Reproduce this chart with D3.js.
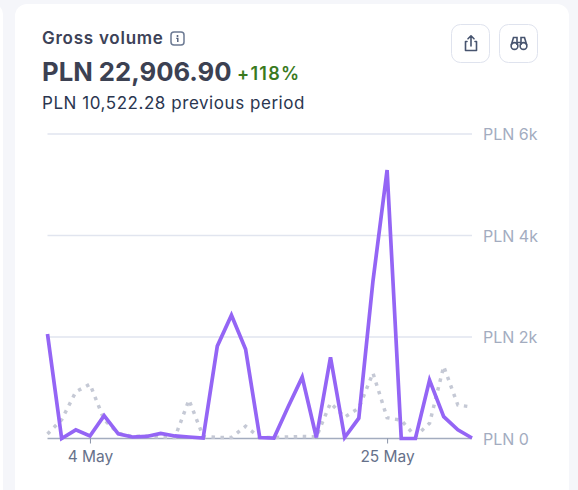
<!DOCTYPE html>
<html><head><meta charset="utf-8">
<script src="https://cdn.jsdelivr.net/npm/d3@7"></script>
<style>
html,body{margin:0;padding:0;background:#f5f6fa;width:578px;height:490px;overflow:hidden}
svg{display:block}
text{font-family:Inter,"Noto Sans",sans-serif}
</style></head><body>
<svg id="c" width="578" height="490"></svg>
<script>
const title = "Gross volume";
const totalLabel = "PLN 22,906.90";
const changeLabel = "+118%";
const previousLabel = "PLN 10,522.28 previous period";
const days = d3.range(1, 32);
const currentValues = [2060,0,170,50,450,90,30,40,100,50,30,10,1820,2430,1760,20,10,620,1210,20,1600,20,400,3100,5290,0,0,1150,430,170,10];
const previousValues = [90,370,920,1070,370,100,40,50,30,20,760,40,20,20,240,20,20,30,40,30,700,420,600,1290,410,360,40,300,1420,660,620];
const yTicks = [0,2000,4000,6000];
const xTickDays = [4,25];

const svg = d3.select("#c");
svg.append("rect").attr("x",-20).attr("y",4).attr("width",23).attr("height",520).attr("rx",10).attr("fill","#fff");
svg.append("rect").attr("x",15).attr("y",4).attr("width",554).attr("height",520).attr("rx",12).attr("fill","#fff");

const date = d => new Date(2024,4,d);
const x = d3.scaleTime().domain([date(1),date(31)]).range([47.5,472]);
const y = d3.scaleLinear().domain([0,6000]).range([438.5,134]);

// header
svg.append("text").attr("x",42).attr("y",44).attr("font-size",17).attr("font-weight",600).attr("letter-spacing",.75).attr("fill","#3c4257").text(title);
svg.append("text").attr("x",42).attr("y",80.5).attr("font-size",25.7).attr("font-weight",700).attr("fill","#3c4152").text(totalLabel);
svg.append("text").attr("x",237).attr("y",80).attr("font-size",18).attr("font-weight",600).attr("letter-spacing",1.3).attr("fill","#3a7a1e").text(changeLabel);
svg.append("text").attr("x",42).attr("y",109).attr("font-size",17).attr("letter-spacing",.55).attr("fill","#2a3650").text(previousLabel);

// info icon
const info = svg.append("g").attr("transform","translate(170,31)");
info.append("rect").attr("x",1).attr("y",1).attr("width",13).attr("height",13).attr("rx",3).attr("fill","none").attr("stroke","#6c7a93").attr("stroke-width",1.5);
info.append("circle").attr("cx",7.5).attr("cy",5).attr("r",1).attr("fill","#4f5b76");
info.append("path").attr("d","M6.3 7.4H7.8V11").attr("fill","none").attr("stroke","#4f5b76").attr("stroke-width",1.4);

// buttons
[451,499].forEach(bx=>{
  svg.append("rect").attr("x",bx+.5).attr("y",24.5).attr("width",38).attr("height",38).attr("rx",9)
    .attr("fill","#fff").attr("stroke","#dfe3ee").attr("stroke-width",1);
});
svg.append("path").attr("d","M467 41.5H465.5V50.5H476.5V41.5H475M471 46V36M468 38.8L471 35.8L474 38.8")
  .attr("fill","none").attr("stroke","#47546f").attr("stroke-width",1.6).attr("stroke-linejoin","round").attr("stroke-linecap","round");
const bin = svg.append("g").attr("fill","none").attr("stroke","#47546f").attr("stroke-width",1.6);
bin.append("circle").attr("cx",514.5).attr("cy",46).attr("r",3.4);
bin.append("circle").attr("cx",523.5).attr("cy",46).attr("r",3.4);
bin.append("path").attr("d","M511.3 45L513.5 37.5H517V45M526.7 45L524.5 37.5H521V45M517 42.5H521");

// axes
const gy = svg.append("g").attr("transform","translate(472,0.5)")
  .call(d3.axisRight(y).tickValues(yTicks).tickSize(0).tickPadding(11).tickFormat(v=>"PLN "+(v?v/1000+"k":"0")));
gy.select(".domain").remove();
gy.selectAll("text").attr("font-size",16).attr("fill","#a3acbf").style("font-family","Inter,sans-serif");
svg.append("g").selectAll("line").data(yTicks.filter(v=>v>0)).join("line")
  .attr("x1",47.5).attr("x2",472).attr("y1",d=>y(d)).attr("y2",d=>y(d))
  .attr("stroke","#e1e5ef").attr("stroke-width",1.5);

const gx = svg.append("g").attr("transform","translate(0,438.5)")
  .call(d3.axisBottom(x).tickValues(xTickDays.map(date)).tickSize(5).tickPadding(7).tickFormat(d3.timeFormat("%-d May")));
gx.select(".domain").attr("d",`M47.5,0H472`).attr("stroke","#a3acbf").attr("stroke-width",1.5);
gx.selectAll("line").attr("stroke","#8a94a8");
gx.selectAll("text").attr("font-size",15.5).attr("fill","#66718a").style("font-family","Inter,sans-serif");

// series
const line = d3.line().x((v,i)=>x(date(days[i]))).y(v=>y(v));
svg.append("path").datum(previousValues).attr("d",line).attr("fill","none")
  .attr("stroke","#c5c9d5").attr("stroke-width",3.5).attr("stroke-dasharray","3.5 5.5");
svg.append("path").datum(currentValues).attr("d",line).attr("fill","none")
  .attr("stroke","#9465f5").attr("stroke-width",3.7).attr("stroke-linejoin","miter");
</script>
</body></html>
